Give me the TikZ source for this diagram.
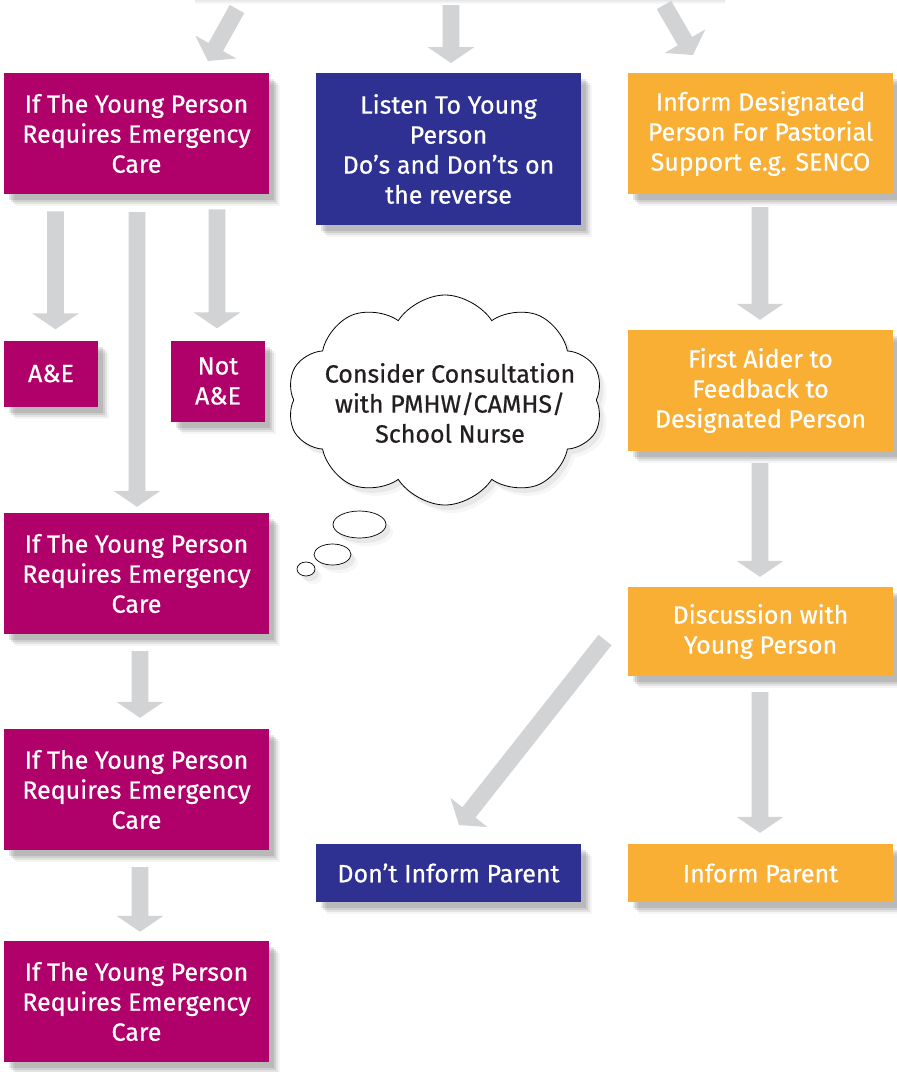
\documentclass[tikz,border=0pt]{standalone}
\usepackage{fontspec}
\setmainfont{Fira Sans}[AutoFakeBold=0.6]
\usetikzlibrary{calc,shadows,shapes.symbols,shapes.geometric}
\definecolor{mag}{HTML}{B0006A}
\definecolor{navy}{HTML}{2E3192}
\definecolor{amber}{HTML}{F9AE34}
\definecolor{agray}{HTML}{D1D3D4}
\definecolor{ink}{HTML}{231F20}
\newcommand\blockarrow[2]{%
  \coordinate (ba-h) at ($(#2)!16pt!(#1)$);
  \fill[agray] ($(#1)!8.3pt!90:(#2)$) -- ($(ba-h)!8.3pt!90:(#2)$) -- ($(ba-h)!23.5pt!90:(#2)$)
    -- (#2) -- ($(ba-h)!23.5pt!-90:(#2)$) -- ($(ba-h)!8.3pt!-90:(#2)$) -- ($(#1)!8.3pt!-90:(#2)$) -- cycle;
}
\tikzset{
  boxshadow/.style={
    general shadow={shadow xshift=5pt, shadow yshift=-6pt, fill=black!80, opacity=.13},
    general shadow={shadow xshift=7pt, shadow yshift=-8pt, fill=black!80, opacity=.12},
    general shadow={shadow xshift=9pt, shadow yshift=-10pt, fill=black!80, opacity=.09},
    general shadow={shadow xshift=11pt, shadow yshift=-12pt, fill=black!80, opacity=.05}},
  lightshadow/.style={
    general shadow={shadow xshift=4pt, shadow yshift=-5pt, fill=black!60, opacity=.10},
    general shadow={shadow xshift=7pt, shadow yshift=-8pt, fill=black!60, opacity=.06}},
  txt/.style={font=\fontsize{25}{30}\selectfont\bfseries},
  box/.style={rectangle, minimum width=265pt, minimum height=121pt, inner sep=0pt,
    align=center, text=white, txt, boxshadow},
  smallbox/.style={box, minimum width=94pt},
  bubble/.style={ellipse, draw=black, line width=0.7pt, fill=white, inner sep=0pt, lightshadow},
}
\begin{document}
\begin{tikzpicture}[x=1pt, y=-1pt]
\useasboundingbox (0,0) rectangle (897,1072);
\shade[top color=black!9, bottom color=white] (195,0) rectangle (725,4);

% boxes
\node[box, fill=mag] (m1) at (136.5,133.5) {If The Young Person\\Requires Emergency\\Care};
\node[box, fill=navy, minimum height=152pt] (b1) at (448.5,149) {Listen To Young\\Person\\Do’s and Don’ts on\\the reverse};
\node[box, fill=amber] (o1) at (760.5,133.5) {Inform Designated\\Person For Pastorial\\Support e.g. SENCO};
\node[smallbox, fill=mag, minimum height=66pt] (ae) at (51,373.5) {A\&E};
\node[smallbox, fill=mag, minimum height=81pt] (nae) at (218,381) {Not\\A\&E};
\node[box, fill=mag] (m2) at (136.5,573.5) {If The Young Person\\Requires Emergency\\Care};
\node[box, fill=mag] (m3) at (136.5,789.5) {If The Young Person\\Requires Emergency\\Care};
\node[box, fill=mag] (m4) at (136.5,1001.5) {If The Young Person\\Requires Emergency\\Care};
\node[box, fill=amber] (o2) at (760.5,390.5) {First Aider to\\Feedback to\\Designated Person};
\node[box, fill=amber, minimum height=89pt] (o3) at (760.5,631.5) {Discussion with\\Young Person};
\node[box, fill=navy, minimum height=58pt] (b2) at (448.5,873) {Don’t Inform Parent};
\node[box, fill=amber, minimum height=58pt] (o4) at (760.5,873) {Inform Parent};

% thought cloud
\node[cloud, draw=black, line width=0.8pt, fill=white, cloud puffs=10, cloud puff arc=115,
  cloud ignores aspect, minimum width=316pt, minimum height=210pt, inner sep=0pt,
  lightshadow] (cl) at (445,400) {};
\node[align=center, text=ink, txt, inner sep=0pt] (clt) at (450,403)
  {Consider Consultation\\with PMHW/CAMHS/\\School Nurse};
\node[bubble, minimum width=53pt, minimum height=27pt] (bu1) at (359.5,524.5) {};
\node[bubble, minimum width=37pt, minimum height=21pt] (bu2) at (332.5,554.5) {};
\node[bubble, minimum width=18pt, minimum height=14pt] (bu3) at (306,569) {};

% arrow end points
\coordinate (t1) at (237,9);   \coordinate (h1) at (208,61);
\coordinate (t2) at (451,5);   \coordinate (h2) at (451,63);
\coordinate (t3) at (664,5);   \coordinate (h3) at (693,55);
\coordinate (t4) at ($(ae.north)+(4.5,-129)$);  \coordinate (h4) at ($(ae.north)+(4.5,-11)$);
\coordinate (t5) at ($(m1.south)+(0.5,18)$);    \coordinate (h5) at ($(m2.north)+(0.5,-6)$);
\coordinate (t6) at ($(nae.north)+(-1,-131)$);  \coordinate (h6) at ($(nae.north)+(-1,-12)$);
\coordinate (t7) at ($(m2.south)+(3.5,17)$);    \coordinate (h7) at ($(m3.north)+(3.5,-11)$);
\coordinate (t8) at ($(m3.south)+(3.5,17)$);    \coordinate (h8) at ($(m4.north)+(3.5,-9)$);
\coordinate (t9) at ($(o1.south)+(-0.5,13)$);   \coordinate (h9) at ($(o2.north)+(-0.5,-10)$);
\coordinate (t10) at ($(o2.south)+(-0.5,12)$);  \coordinate (h10) at ($(o3.north)+(-0.5,-10)$);
\coordinate (t11) at ($(o3.south)+(-0.5,16)$);  \coordinate (h11) at ($(o4.north)+(-0.5,-11)$);
\coordinate (t12) at (605,640);  \coordinate (h12) at (459,825);

\blockarrow{t1}{h1}
\blockarrow{t2}{h2}
\blockarrow{t3}{h3}
\blockarrow{t4}{h4}
\blockarrow{t5}{h5}
\blockarrow{t6}{h6}
\blockarrow{t7}{h7}
\blockarrow{t8}{h8}
\blockarrow{t9}{h9}
\blockarrow{t10}{h10}
\blockarrow{t11}{h11}
\blockarrow{t12}{h12}
\end{tikzpicture}
\end{document}
